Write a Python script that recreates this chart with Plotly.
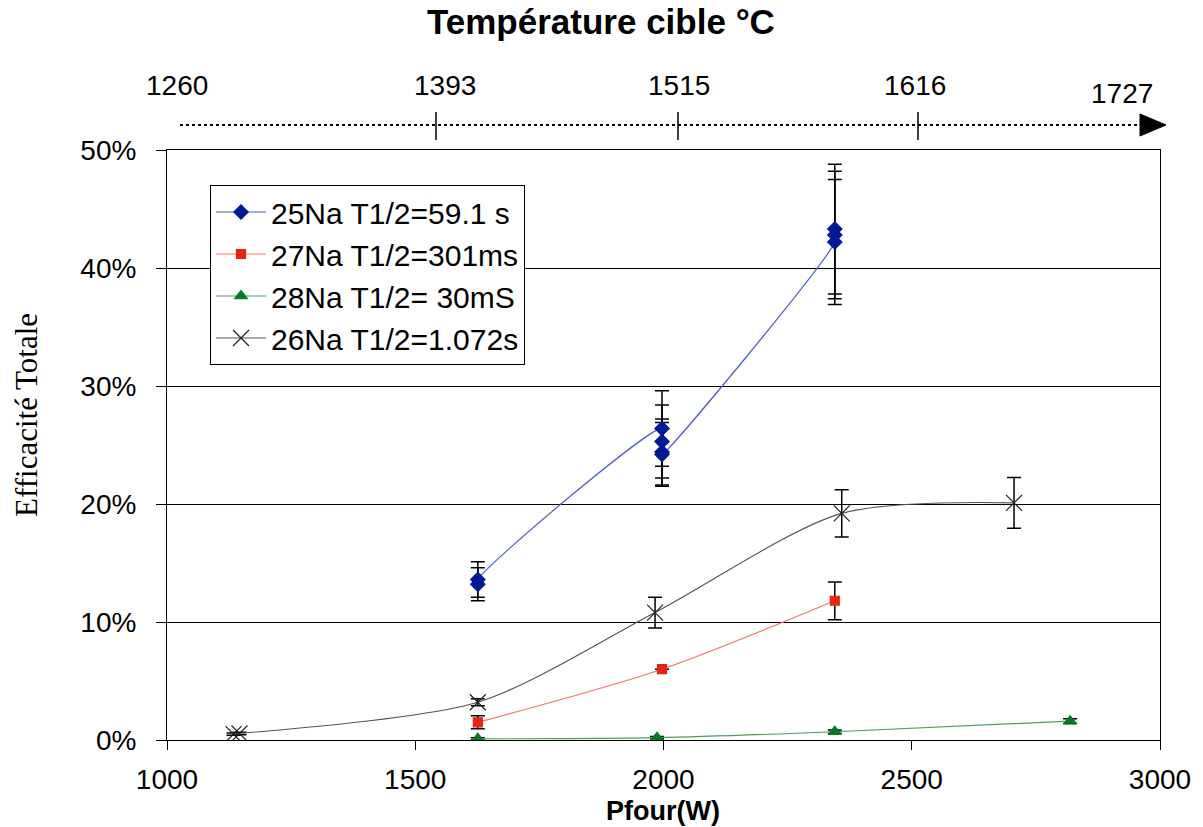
import plotly.graph_objects as go

# ---------------- data ----------------
na25_x = [1626, 1626, 1997, 1997, 1997, 1997, 2345, 2345, 2345]
na25_y = [13.2, 13.6, 26.4, 25.3, 24.4, 24.2, 42.2, 42.8, 43.3]
na25_err = [1.4, 1.5, 3.2, 3.1, 2.8, 2.7, 5.3, 5.4, 5.5]

na27_x = [1626, 1997, 2345]
na27_y = [1.5, 6.0, 11.8]
na27_err = [0.55, 0.0, 1.6]

na28_x = [1626, 1987, 2345, 2819]
na28_y = [0.1, 0.2, 0.7, 1.6]
na28_err = [0.1, 0.1, 0.15, 0.2]

na26_x = [1134, 1146, 1626, 1983, 2359, 2706]
na26_y = [0.5, 0.55, 3.2, 10.8, 19.2, 20.1]
na26_err = [0.1, 0.1, 0.3, 1.3, 2.0, 2.15]

names = ["25Na T1/2=59.1 s", "27Na T1/2=301ms", "28Na T1/2= 30mS", "26Na T1/2=1.072s"]

y_ticks = [0, 10, 20, 30, 40, 50]
y_tick_text = [f"{v}%" for v in y_ticks]
x_ticks = [1000, 1500, 2000, 2500, 3000]
top_tick_labels = ["1260", "1393", "1515", "1616", "1727"]

# ---------------- layout helpers ----------------
PW, PH = 1203, 827
L, R, T, B = 167, 43, 150, 87  # plot-area edges in page pixels
W, H = PW, PH
pw, ph = PW - L - R, PH - T - B


def px_x(p):
    return (p - L) / pw


def px_y(p):
    return (PH - B - p) / ph


FONT = "Arial, 'Liberation Sans', sans-serif"
SERIF = "'Times New Roman', 'Liberation Serif', serif"

fig = go.Figure()

series = [
    (na25_x, na25_y, na25_err, names[0], "#4A5FCF", "#001A94", "diamond", 11),
    (na27_x, na27_y, na27_err, names[1], "#F4776A", "#E8250C", "square", 9),
    (na28_x, na28_y, na28_err, names[2], "#4E9E5E", "#007A24", "triangle-up", 11),
    (na26_x, na26_y, na26_err, names[3], "#555555", "#222222", "x-thin", 16),
]

for xs, ys, es, nm, lc, mc, sym, sz in series:
    fig.add_trace(go.Scatter(
        x=xs, y=ys, name=nm, mode="lines+markers",
        line=dict(color=lc, width=1.2, shape="spline", smoothing=0.8),
        marker=dict(symbol=sym, size=sz, color=mc,
                    line=dict(color=mc, width=1.2)),
        error_y=dict(type="data", array=es, visible=True,
                     color="black", thickness=1.5, width=7),
    ))

fig.update_layout(
    width=W, height=H,
    margin=dict(l=L, r=R, t=T, b=B, autoexpand=False),
    paper_bgcolor="white", plot_bgcolor="white",
    font=dict(family=FONT, size=28, color="black"),
    showlegend=True,
    legend=dict(
        x=px_x(210), y=px_y(185), xanchor="left", yanchor="top",
        bgcolor="white", bordercolor="black", borderwidth=1,
        font=dict(family=FONT, size=30, color="black"),
        itemwidth=50, tracegroupgap=0,
    ),
    xaxis=dict(
        range=[1000, 3000], tickvals=x_ticks, ticks="outside", ticklen=9,
        tickcolor="black", showgrid=False, showline=True, linecolor="black",
        linewidth=1, mirror=True, zeroline=False,
        tickfont=dict(family=FONT, size=28), ticklabelstandoff=5,
    ),
    yaxis=dict(
        range=[0, 50], tickvals=y_ticks, ticktext=y_tick_text, ticks="outside",
        ticklen=10, tickcolor="black", showgrid=True, gridcolor="black",
        gridwidth=1, showline=True, linecolor="black", linewidth=1,
        mirror=True, zeroline=False,
        tickfont=dict(family=FONT, size=28), ticklabelstandoff=14,
    ),
)


def note(text, x, y, font, **kw):
    fig.add_annotation(text=text, xref="paper", yref="paper",
                       x=px_x(x), y=px_y(y), showarrow=False,
                       xanchor="center", yanchor="middle", font=font, **kw)


# axis titles
note("<b>Pfour(W)</b>", 663, 811, dict(family=FONT, size=27, color="black"))
note("Efficacité Totale", 26, 415, dict(family=SERIF, size=31, color="black"),
     textangle=-90)

# top temperature axis (drawn)
note("<b>Température cible °C</b>", 601, 21, dict(family=FONT, size=35, color="black"))

top_label_px = [(177, 85), (445, 85), (679, 85), (915, 85), (1122, 93)]
for lab, (lx, ly) in zip(top_tick_labels, top_label_px):
    note(lab, lx, ly, dict(family=FONT, size=28, color="black"))

fig.add_shape(type="line", xref="paper", yref="paper",
              x0=px_x(180), x1=px_x(1142), y0=px_y(125), y1=px_y(125),
              line=dict(color="black", width=2, dash="dot"))
for tx in [436, 678, 918]:
    fig.add_shape(type="line", xref="paper", yref="paper",
                  x0=px_x(tx), x1=px_x(tx), y0=px_y(112), y1=px_y(140),
                  line=dict(color="black", width=1.5))
fig.add_shape(type="path", xref="paper", yref="paper",
              path=f"M {px_x(1140)},{px_y(114)} L {px_x(1166)},{px_y(125)} "
                   f"L {px_x(1140)},{px_y(136)} Z",
              fillcolor="black", line=dict(color="black", width=1))

fig.write_html(
    "out.html",
    config={"displayModeBar": False},
    post_script="document.body.style.margin='0';document.body.style.overflow='hidden';",
)
